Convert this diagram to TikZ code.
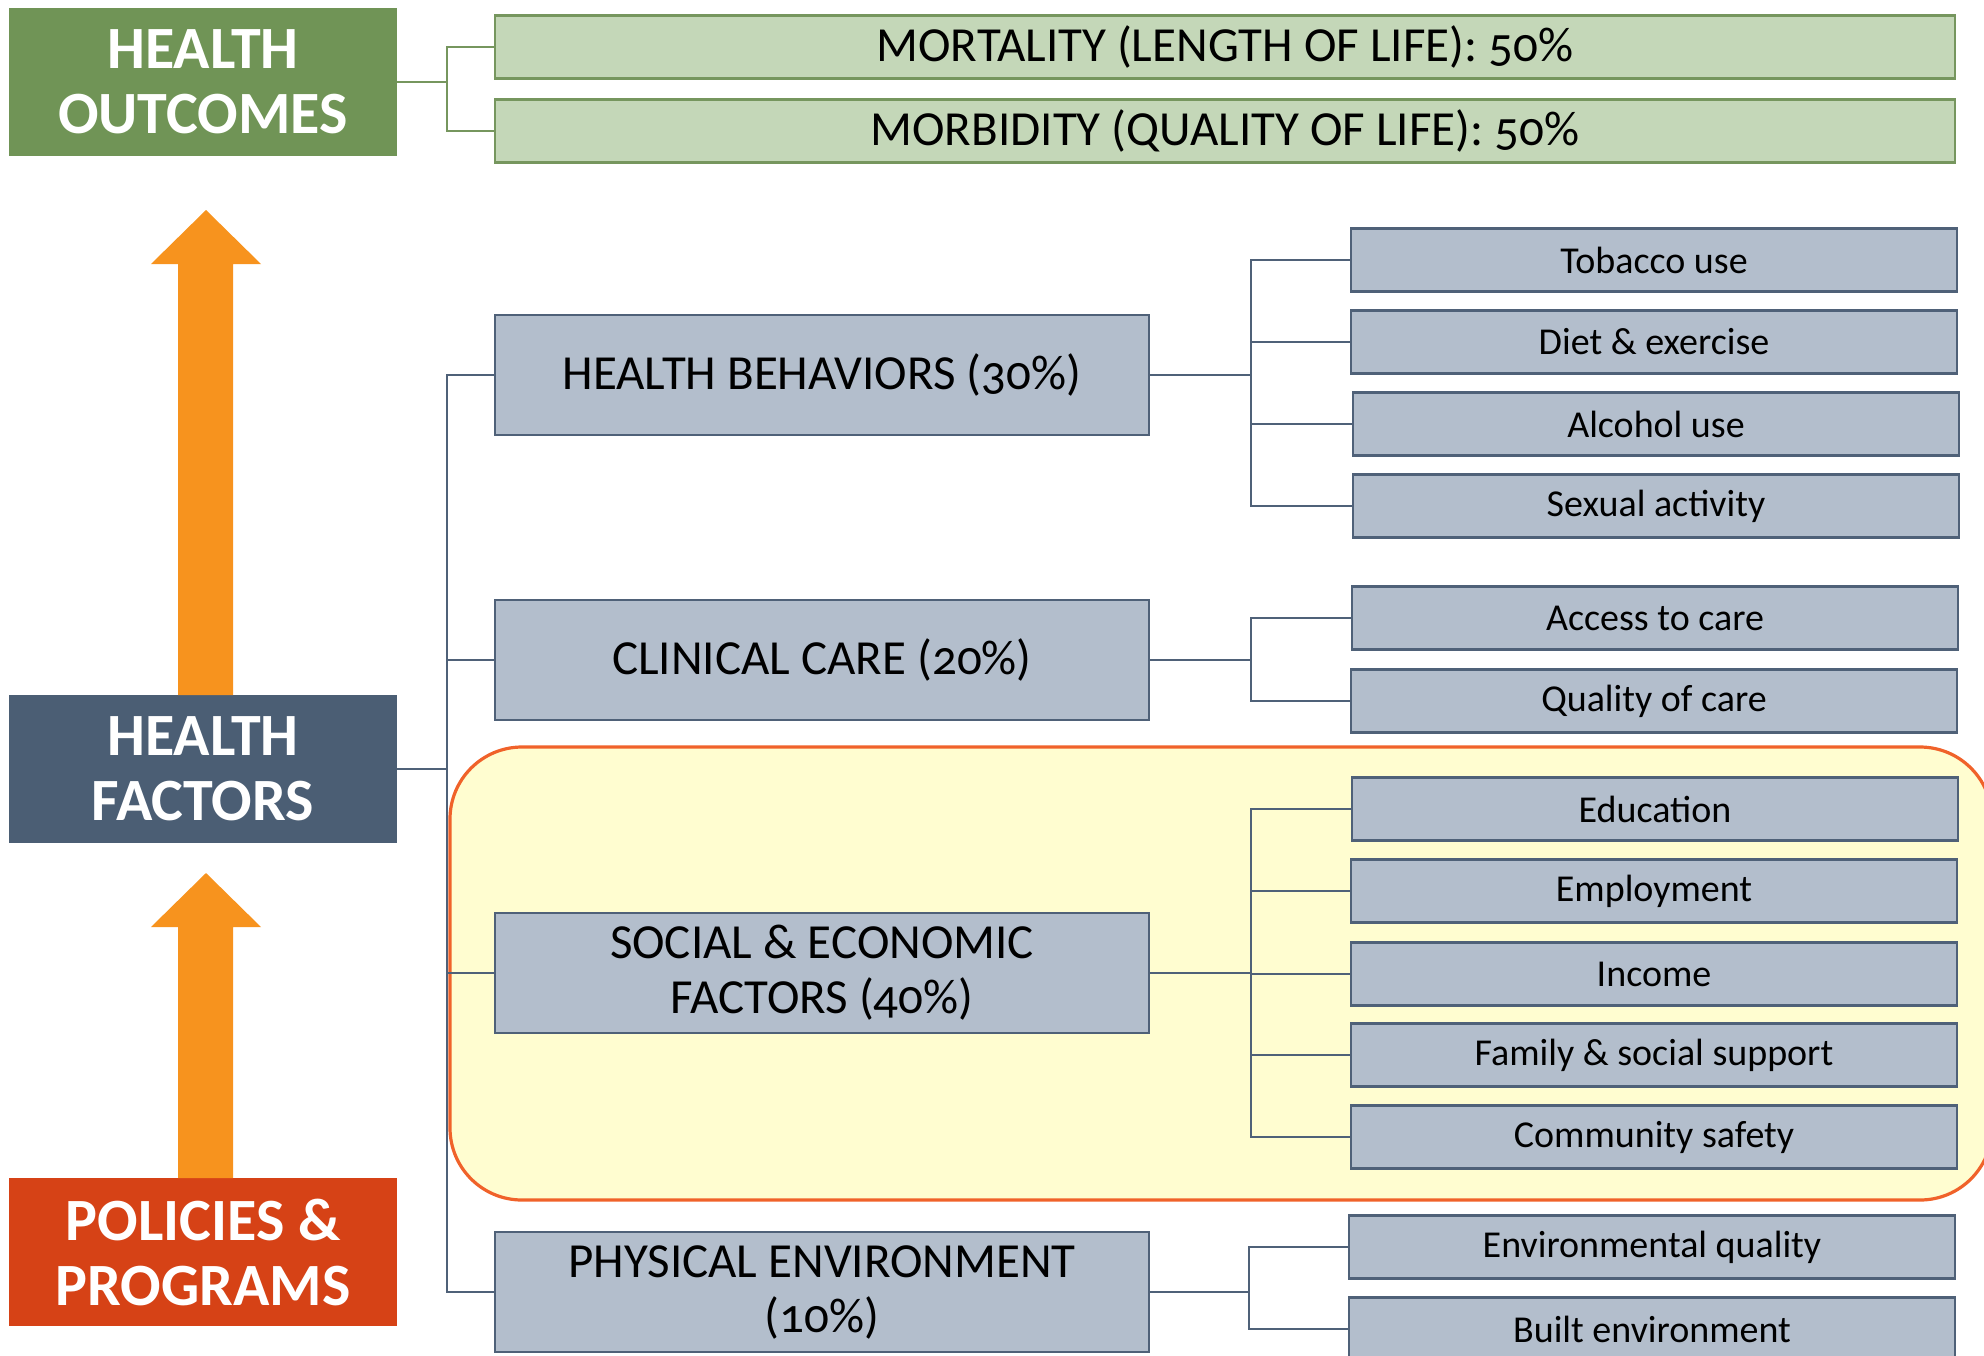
\documentclass[tikz,border=0pt]{standalone}
\usepackage{fontspec}
\setmainfont{Carlito}
\newfontfamily\catfont{Carlito}[Numbers=OldStyle]
\definecolor{hogreen}{RGB}{112,148,86}
\definecolor{hfslate}{RGB}{75,94,116}
\definecolor{pporange}{RGB}{214,66,22}
\definecolor{arroworange}{RGB}{247,147,30}
\definecolor{outfill}{RGB}{196,215,184}
\definecolor{outline}{RGB}{118,150,94}
\definecolor{boxfill}{RGB}{179,190,204}
\definecolor{boxline}{RGB}{79,97,120}
\definecolor{sefill}{RGB}{255,253,208}
\definecolor{seline}{RGB}{240,98,42}
\tikzset{
  leftbox/.style={minimum width=194pt, minimum height=74pt, inner sep=0pt,
    text=white, align=center, font=\fontsize{30}{32.5}\selectfont\bfseries},
  outbox/.style={draw=outline, line width=1.2pt, fill=outfill, minimum width=730pt,
    minimum height=31.5pt, inner sep=0pt, font=\catfont\fontsize{24.5}{28}\selectfont},
  factorbox/.style={draw=boxline, line width=1.2pt, fill=boxfill, minimum width=327pt,
    minimum height=60pt, inner sep=0pt, align=center,
    font=\catfont\fontsize{24.5}{27.5}\selectfont},
  itembox/.style={draw=boxline, line width=1.2pt, fill=boxfill, minimum width=303pt,
    minimum height=31.5pt, inner sep=0pt, font=\fontsize{19}{22}\selectfont},
  link/.style={draw=boxline, line width=0.9pt},
  uparrow/.style={fill=arroworange}
}
\begin{document}
\begin{tikzpicture}[x=0.5pt, y=-0.5pt]
\useasboundingbox (0,0) rectangle (1984,1355);
\clip (0,0) rectangle (1984,1355);
% Highlight behind social & economic factors
    \draw[fill=sefill, draw=seline, line width=1.6pt, rounded corners=36pt]
      (450,747) rectangle (1992,1200);
% Left column
    \node[leftbox, fill=hogreen] (ho) at (203,82) {HEALTH\\OUTCOMES};
    \node[leftbox, fill=hfslate] (hf) at (203,769) {HEALTH\\FACTORS};
    \node[leftbox, fill=pporange] (pp) at (203,1252) {POLICIES \&\\PROGRAMS};
% Arrows
    \fill[uparrow] (178,695) -- (178,264) -- (151,264) -- (206,210)
      -- (261,264) -- (233,264) -- (233,695) -- cycle;
    \fill[uparrow] (178,1178) -- (178,927) -- (151,927) -- (206,873)
      -- (261,927) -- (233,927) -- (233,1178) -- cycle;
% Outcomes
    \node[outbox] (mort) at (1225,47) {MORTALITY (LENGTH OF LIFE): 50\%};
    \node[outbox] (morb) at (1225,131) {MORBIDITY (QUALITY OF LIFE): 50\%};
% Factors
    \node[factorbox] (hb) at (822,375) {HEALTH BEHAVIORS (30\%)};
    \node[factorbox] (cc) at (822,660) {CLINICAL CARE (20\%)};
    \node[factorbox] (se) at (822,973) {SOCIAL \& ECONOMIC\\FACTORS (40\%)};
    \node[factorbox] (pe) at (822,1292) {PHYSICAL ENVIRONMENT\\(10\%)};
% Items
    \node[itembox] (tob) at (1654,260) {Tobacco use};
    \node[itembox] (diet) at (1654,342) {Diet \& exercise};
    \node[itembox] (alc) at (1656,424) {Alcohol use};
    \node[itembox] (sex) at (1656,506) {Sexual activity};
    \node[itembox] (acc) at (1655,618) {Access to care};
    \node[itembox] (qual) at (1654,701) {Quality of care};
    \node[itembox] (edu) at (1655,809) {Education};
    \node[itembox] (emp) at (1654,891) {Employment};
    \node[itembox] (inc) at (1654,974) {Income};
    \node[itembox] (fam) at (1654,1055) {Family \& social support};
    \node[itembox] (com) at (1654,1137) {Community safety};
    \node[itembox] (env) at (1652,1247) {Environmental quality};
    \node[itembox] (blt) at (1652,1329) {Built environment};
% Junctions
    \coordinate (hoj) at (447,82);
    \coordinate (hfj) at (447,769);
    \coordinate (hbj) at (1251,375);
    \coordinate (ccj) at (1251,660);
    \coordinate (sej) at (1251,973);
    \coordinate (pej) at (1249,1292);
% Connectors
    \draw[link, draw=outline] (ho.east) -- (hoj) |- (mort.west);
    \draw[link, draw=outline] (hoj) |- (morb.west);
    \draw[link] (hf.east) -- (hfj);
    \foreach \f in {hb,cc,se,pe} \draw[link] (hfj) |- (\f.west);
    \draw[link] (hb.east) -- (hbj);
    \foreach \i in {tob,diet,alc,sex} \draw[link] (hbj) |- (\i.west);
    \draw[link] (cc.east) -- (ccj);
    \foreach \i in {acc,qual} \draw[link] (ccj) |- (\i.west);
    \draw[link] (se.east) -- (sej);
    \foreach \i in {edu,emp,inc,fam,com} \draw[link] (sej) |- (\i.west);
    \draw[link] (pe.east) -- (pej);
    \foreach \i in {env,blt} \draw[link] (pej) |- (\i.west);
\end{tikzpicture}
\end{document}
